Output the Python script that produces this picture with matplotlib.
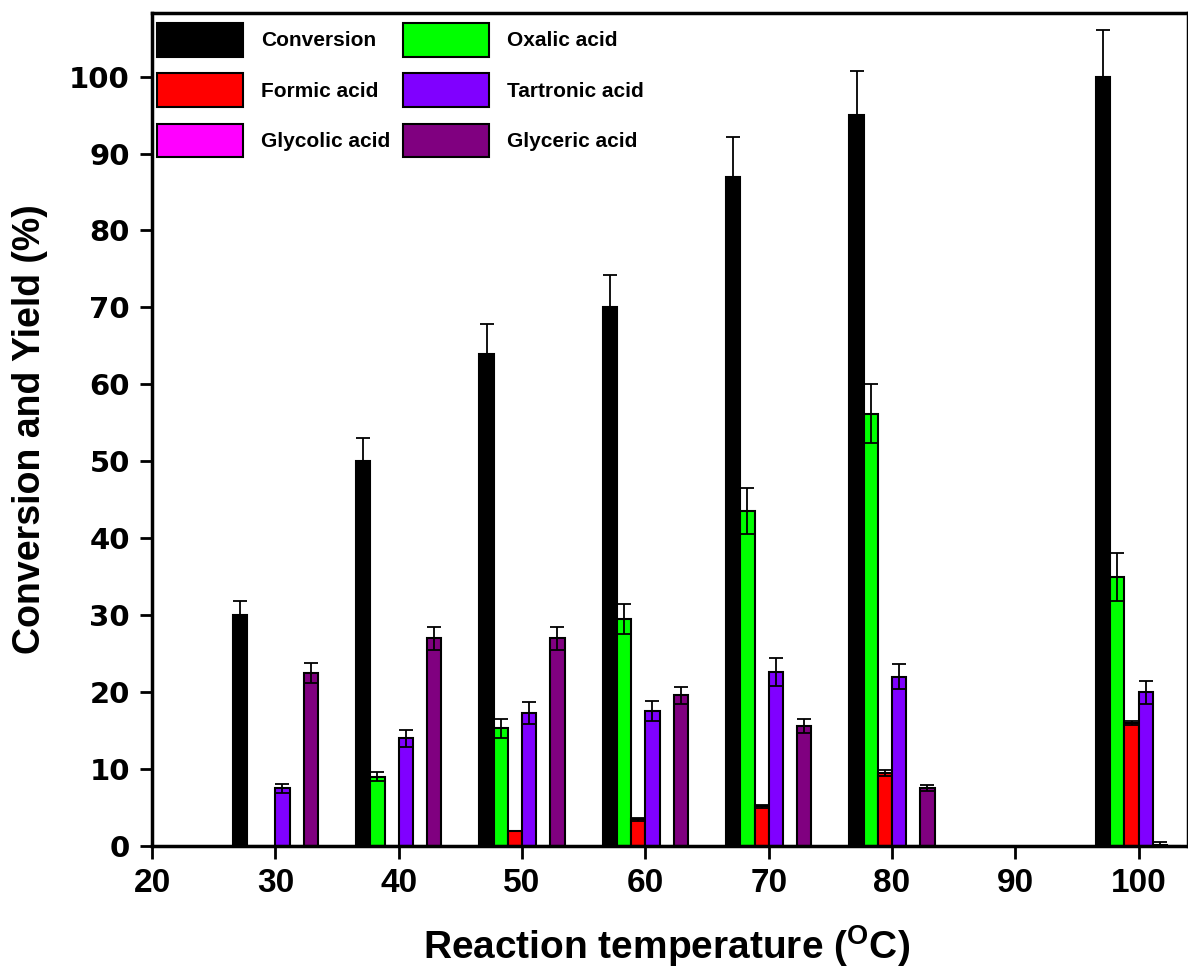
import numpy as np
import matplotlib
matplotlib.use('Agg')
import matplotlib.pyplot as plt

plt.rcParams['font.family'] = ['Liberation Sans', 'DejaVu Sans']
plt.rcParams['font.weight'] = 'bold'
plt.rcParams['mathtext.fontset'] = 'custom'
plt.rcParams['mathtext.rm'] = 'Liberation Sans:bold'
plt.rcParams['mathtext.bf'] = 'Liberation Sans:bold'

# reaction temperatures (oC)
temps = [30, 40, 50, 60, 70, 80, 100]

names = ['Conversion', 'Oxalic acid', 'Formic acid',
         'Tartronic acid', 'Glycolic acid', 'Glyceric acid']
colors = ['#000000', '#00ff00', '#ff0000', '#8000ff', '#ff00ff', '#800080']

conversion = [30.0, 50.0, 64.0, 70.0, 87.0, 95.0, 100.0]
oxalic     = [0.0, 9.0, 15.3, 29.5, 43.5, 56.2, 35.0]
formic     = [0.0, 0.0, 2.0, 3.5, 5.2, 9.5, 16.0]
tartronic  = [7.5, 14.0, 17.3, 17.5, 22.6, 22.0, 20.0]
glycolic   = [0.0, 0.0, 0.0, 0.0, 0.0, 0.0, 0.2]
glyceric   = [22.5, 27.0, 27.0, 19.6, 15.6, 7.6, 0.0]

conversion_err = [1.8, 3.0, 3.8, 4.2, 5.2, 5.7, 6.0]
oxalic_err     = [0.0, 0.6, 1.2, 2.0, 3.0, 3.8, 3.1]
formic_err     = [0.0, 0.0, 0.0, 0.2, 0.2, 0.4, 0.3]
tartronic_err  = [0.6, 1.1, 1.4, 1.3, 1.8, 1.6, 1.5]
glycolic_err   = [0.0, 0.0, 0.0, 0.0, 0.0, 0.0, 0.3]
glyceric_err   = [1.3, 1.5, 1.5, 1.1, 0.9, 0.4, 0.0]

series = [conversion, oxalic, formic, tartronic, glycolic, glyceric]
errors = [conversion_err, oxalic_err, formic_err, tartronic_err, glycolic_err, glyceric_err]

fig = plt.figure(figsize=(11.88, 9.77), dpi=100)
ax = fig.add_axes([0.128, 0.134, 0.872, 0.853])

width = 1.15
x = np.array(temps, dtype=float)
bars = []
for i in range(6):
    pos = x + (i - 2.5) * width
    vals = np.array(series[i])
    errs = np.array(errors[i])
    b = ax.bar(pos, vals, width, color=colors[i], edgecolor='black',
               linewidth=1.5, label=names[i], zorder=2)
    bars.append(b)
    m = errs > 0
    ax.errorbar(pos[m], vals[m], yerr=errs[m], fmt='none', ecolor='black',
                elinewidth=1.3, capsize=5, capthick=1.3, zorder=3)

ax.set_xlim(20, 104)
ax.set_ylim(0, 108.3)
ax.set_xticks([20, 30, 40, 50, 60, 70, 80, 90, 100])
ax.set_yticks(range(0, 101, 10))
ax.tick_params(axis='both', direction='out', length=9, width=2)
ax.tick_params(axis='x', labelsize=24, pad=7)
ax.tick_params(axis='y', labelsize=21, pad=7)
for lab in ax.get_yticklabels():
    lab.set_family('DejaVu Sans')
    lab.set_weight('bold')
for sp in ax.spines.values():
    sp.set_linewidth(2.5)

ax.set_xlabel(r'Reaction temperature ($^{\mathbf{O}}$C)', fontsize=28, fontweight='bold')
ax.set_ylabel('Conversion and Yield (%)', fontsize=27, fontweight='bold')
ax.xaxis.set_label_coords(0.497, -0.092)
ax.yaxis.set_label_coords(-0.1, 0.5)

# legend: two columns, left column Conversion / Formic / Glycolic
order = [0, 2, 4, 1, 3, 5]
leg = ax.legend([bars[k] for k in order], [names[k] for k in order],
                ncol=2, loc='upper left', bbox_to_anchor=(-0.005, 1.0),
                frameon=False, fontsize=15, handlelength=4.1, handleheight=2.1,
                labelspacing=0.8, handletextpad=0.9, columnspacing=0.6,
                borderpad=0.3, borderaxespad=0.2)

fig.savefig('out.png', dpi=100)
